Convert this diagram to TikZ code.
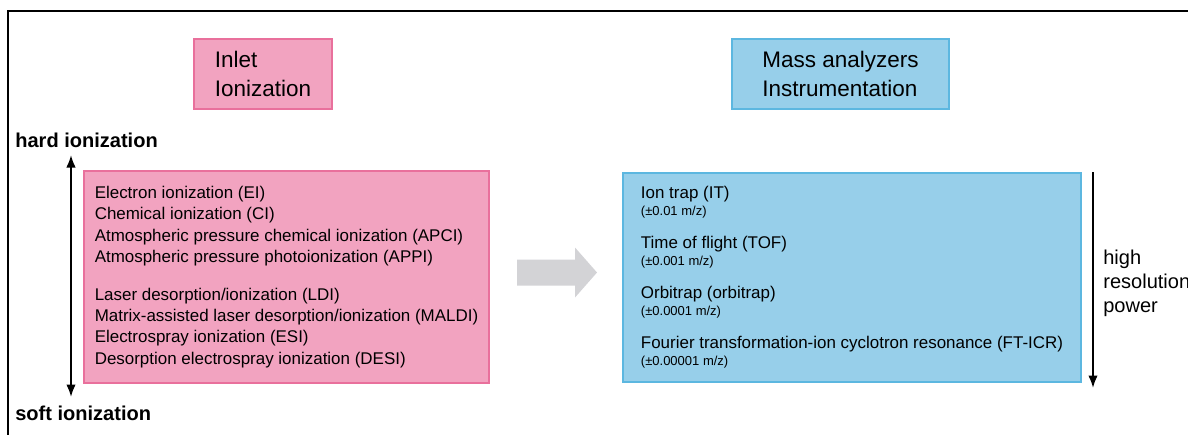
\documentclass[tikz,border=0pt]{standalone}
\usepackage{fontspec}
\setmainfont{Liberation Sans}
\usetikzlibrary{arrows.meta,positioning}
\definecolor{inletpink}{RGB}{242,163,192}
\definecolor{inletline}{RGB}{233,112,156}
\definecolor{massblue}{RGB}{151,207,234}
\definecolor{massline}{RGB}{92,183,224}
\definecolor{flowgray}{RGB}{211,211,214}

\tikzset{
  headbox/.style={minimum width=2.76cm, minimum height=1.4cm, line width=1.2pt,
                  align=left, font=\fontsize{12.8}{16.5}\selectfont},
  listbox/.style={anchor=north west, line width=1.2pt, align=left, inner sep=0pt,
                  font=\fontsize{9.65}{12}\selectfont},
  sidelabel/.style={anchor=base west, inner sep=0pt, font=\bfseries\fontsize{11.4}{13}\selectfont},
}
\newcommand{\accfont}{\fontsize{7.4}{8}\selectfont}

\begin{document}
\begin{tikzpicture}[x=0.02cm, y=-0.02cm, >={Latex[length=2.5mm,width=1.9mm]}]
  \useasboundingbox (0,0) rectangle (1188,434);
  % Frame
  \draw[line width=1.1pt] (8,450) -- (8,11) -- (1200,11);

  % Headings
  \node[headbox, fill=inletpink, draw=inletline] (inlet) at (263,74) {Inlet\\Ionization};
  \node[headbox, fill=massblue, draw=massline, minimum width=4.34cm] (mass) at (840.5,74)
        {Mass analyzers\\Instrumentation};

  % Ionization methods
  \node[listbox, fill=inletpink, draw=inletline, minimum width=8.1cm,
        minimum height=4.24cm] (ion) at (83,170)
        {Electron ionization (EI)\\
         Chemical ionization (CI)\\
         Atmospheric pressure chemical ionization (APCI)\\
         Atmospheric pressure photoionization (APPI)\\[10pt]
         Laser desorption/ionization (LDI)\\
         Matrix-assisted laser desorption/ionization (MALDI)\\
         Electrospray ionization (ESI)\\
         Desorption electrospray ionization (DESI)};

  % Mass analyzers
  \node[listbox, fill=massblue, draw=massline, minimum width=9.16cm,
        minimum height=4.18cm] (ana) at (622,172)
        {Ion trap (IT)\\[-2.3pt]
         {\accfont (±0.01 m/z)}\\[6.8pt]
         Time of flight (TOF)\\[-2.3pt]
         {\accfont (±0.001 m/z)}\\[6.8pt]
         Orbitrap (orbitrap)\\[-2.3pt]
         {\accfont (±0.0001 m/z)}\\[6.8pt]
         Fourier transformation-ion cyclotron resonance (FT-ICR)\\[-2.3pt]
         {\accfont (±0.00001 m/z)}};

  % Flow arrow
  \coordinate (flow) at (517,272.5);
  \fill[flowgray] (flow) ++(0,-13) -- ++(58,0) -- ++(0,-12) -- ++(22,25)
        -- ++(-22,25) -- ++(0,-12) -- ++(-58,0) -- cycle;

  % Ionization scale
  \node[sidelabel] (hard) at (15,147) {hard ionization};
  \node[sidelabel] (soft) at (15,420) {soft ionization};
  \coordinate (htip) at (71,155);
  \coordinate (stip) at (71,397);
  \draw[<->, line width=1.1pt] (htip) -- (stip);

  % Resolution scale
  \coordinate (rtop) at (1093,172);
  \coordinate (rbot) at (1093,388);
  \draw[->, line width=1.1pt] (rtop) -- (rbot);
  \node[anchor=west, inner sep=0pt, align=left, font=\fontsize{11.4}{13.7}\selectfont] (res)
        at (1103,283) {high\\resolution\\power};
\end{tikzpicture}
\end{document}
